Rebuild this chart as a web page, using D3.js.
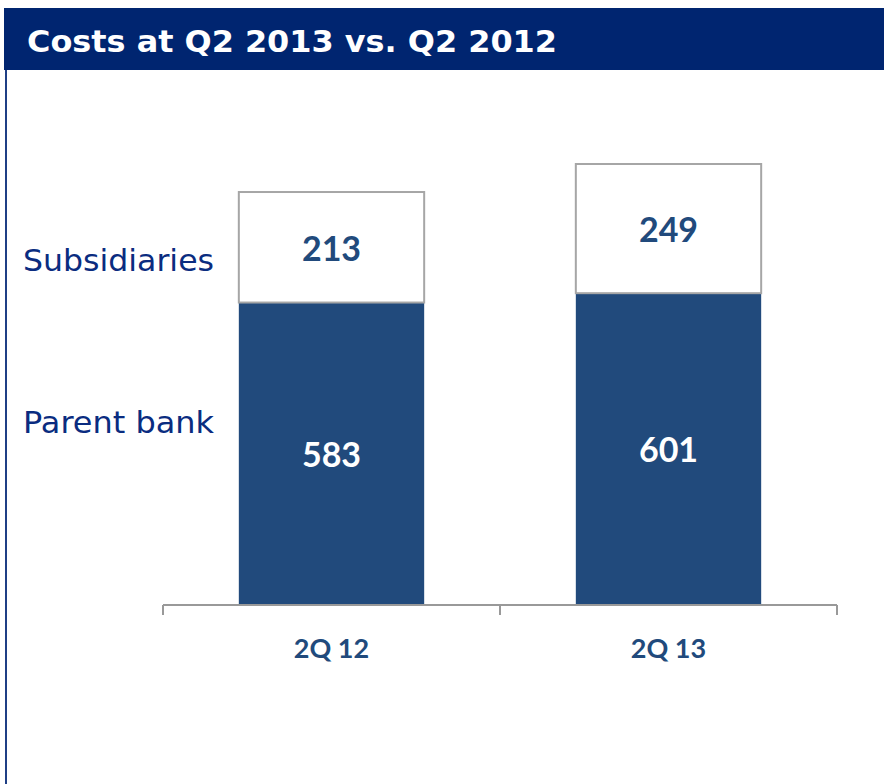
<!DOCTYPE html>
<html><head><meta charset="utf-8">
<script src="https://cdn.jsdelivr.net/npm/d3@7"></script>
<style>html,body{margin:0;padding:0;background:#fff;}svg{display:block;}</style>
</head><body>
<svg id="chart" width="884" height="784"></svg>
<script>
const title = "Costs at Q2 2013 vs. Q2 2012";
const categories = ["2Q 12", "2Q 13"];
const seriesNames = ["Parent bank", "Subsidiaries"];
const parentBank = [583, 601];
const subsidiaries = [213, 249];

const svg = d3.select("#chart");
const W = 884, H = 784;

// header band
svg.append("rect").attr("x", 4).attr("y", 8).attr("width", W - 4).attr("height", 62).attr("fill", "#002570");
svg.append("text").attr("x", 27).attr("y", 52).attr("fill", "#fff")
  .attr("font-family", "DejaVu Sans, Verdana, sans-serif").attr("font-weight", "bold").attr("font-size", 30)
  .attr("textLength", 530).attr("lengthAdjust", "spacingAndGlyphs")
  .text(title);
// left frame line
svg.append("line").attr("x1", 6).attr("x2", 6).attr("y1", 70).attr("y2", H).attr("stroke", "#1f3f85").attr("stroke-width", 2);

const x = d3.scaleBand().domain(categories).range([163, 837]).paddingInner(0.45).paddingOuter(0.225);
const y = d3.scaleLinear().domain([0, 850]).range([605, 164]);

const data = categories.map((c, i) => ({cat: c, parent: parentBank[i], subs: subsidiaries[i]}));
const stack = d3.stack().keys(["parent", "subs"])(data);
const fills = ["#214a7c", "#ffffff"];
const strokes = ["none", "#a6a6a6"];
const textColors = ["#ffffff", "#214a7c"];

stack.forEach((layer, li) => {
  const g = svg.append("g");
  g.selectAll("rect").data(layer).join("rect")
    .attr("x", d => x(d.data.cat))
    .attr("y", d => y(d[1]))
    .attr("width", x.bandwidth())
    .attr("height", d => y(d[0]) - y(d[1]))
    .attr("fill", fills[li])
    .attr("stroke", strokes[li]).attr("stroke-width", 2);
  g.selectAll("text").data(layer).join("text")
    .attr("x", d => x(d.data.cat) + x.bandwidth() / 2)
    .attr("y", d => (y(d[0]) + y(d[1])) / 2 + 1)
    .attr("dy", "0.36em")
    .attr("text-anchor", "middle")
    .attr("fill", textColors[li])
    .attr("font-family", "Lato, 'Open Sans', sans-serif").attr("font-weight", "bold").attr("font-size", 34)
    .text(d => d[1] - d[0]);
});

// x axis
const ax = svg.append("g").attr("transform", "translate(0,605)");
ax.append("line").attr("x1", 163).attr("x2", 837).attr("y1", 0).attr("y2", 0).attr("stroke", "#999").attr("stroke-width", 2);
const boundaries = [163, 500, 837];
ax.selectAll("line.t").data(boundaries).join("line").attr("class", "t")
  .attr("x1", d => d).attr("x2", d => d).attr("y1", 0).attr("y2", 10).attr("stroke", "#999").attr("stroke-width", 2);
ax.selectAll("text.c").data(categories).join("text").attr("class", "c")
  .attr("x", d => x(d) + x.bandwidth() / 2).attr("y", 53)
  .attr("text-anchor", "middle").attr("fill", "#214a7c")
  .attr("font-family", "Lato, 'Open Sans', sans-serif").attr("font-weight", "bold").attr("font-size", 27)
  .text(d => d);

// series labels (left)
svg.selectAll("text.s").data(seriesNames).join("text").attr("class", "s")
  .attr("x", 23).attr("y", (d, i) => i === 0 ? 422 : 260).attr("dy", "0.36em")
  .attr("fill", "#0a2c80")
  .attr("font-family", "DejaVu Sans, Verdana, sans-serif").attr("font-size", 30)
  .attr("textLength", 191).attr("lengthAdjust", "spacingAndGlyphs")
  .text(d => d);
</script>
</body></html>
